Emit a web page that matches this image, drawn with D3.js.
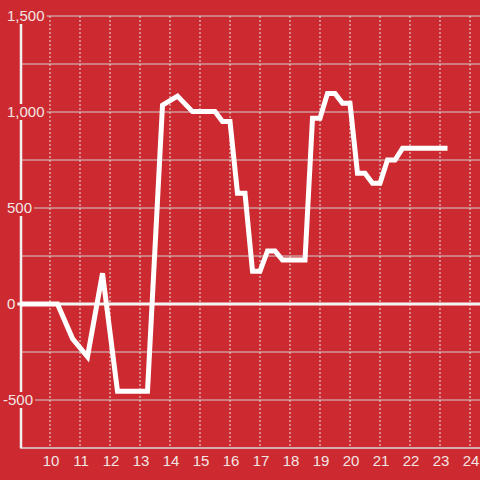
<!DOCTYPE html>
<html><head><meta charset="utf-8">
<script src="https://cdn.jsdelivr.net/npm/d3@7/dist/d3.min.js"></script>
<style>
html,body{margin:0;padding:0;background:#cc2a30;}
svg{display:block;font-family:"Liberation Sans",Arial,sans-serif;}
</style></head><body>
<svg id="c" width="480" height="480"></svg>
<script>
const hours  = [9, 10.25, 10.75, 11.25, 11.75, 12.25, 13.25, 13.75, 14.25, 14.75, 15.5, 15.75, 16, 16.25, 16.5, 16.75, 17, 17.25, 17.5, 17.75, 18.5, 18.75, 19, 19.25, 19.5, 19.75, 20, 20.25, 20.5, 20.75, 21, 21.25, 21.5, 21.75, 23.25];
const values = [0, 0, -180, -275, 160, -455, -455, 1036, 1083, 1002, 1002, 950, 950, 577, 577, 170, 170, 276, 276, 229, 229, 967, 967, 1097, 1097, 1045, 1045, 681, 681, 629, 629, 750, 750, 811, 811];
const xTicks = [10, 11, 12, 13, 14, 15, 16, 17, 18, 19, 20, 21, 22, 23, 24];
const yGrid = [-500, -250, 250, 500, 750, 1000, 1250, 1500];
const yLabels = [1500, 1000, 500, 0, -500];

const bg = "#cc2a30";
const svg = d3.select("#c");
const x = d3.scaleLinear().domain([9, 9 + 460/30]).range([20, 480]);
const y = d3.scaleLinear().domain([-750, 1500]).range([448, 16]);

// horizontal gridlines
svg.append("g").selectAll("line").data(yGrid).join("line")
  .attr("x1", 20).attr("x2", 480)
  .attr("y1", d => y(d)).attr("y2", d => y(d))
  .attr("stroke", "#cfcfcf").attr("stroke-width", 1);

// vertical dashed gridlines
svg.append("g").selectAll("line").data(xTicks).join("line")
  .attr("x1", d => x(d)).attr("x2", d => x(d))
  .attr("y1", y(1500)).attr("y2", y(-750) - 2)
  .attr("stroke", "#e6e6e6").attr("stroke-width", 1)
  .attr("stroke-dasharray", "2,2");

// bottom axis line
svg.append("line").attr("x1", 20).attr("x2", 480)
  .attr("y1", y(-750)).attr("y2", y(-750))
  .attr("stroke", "#d8d8d8").attr("stroke-width", 1.5);

// y axis line
svg.append("line").attr("x1", 21).attr("x2", 21)
  .attr("y1", y(1500)).attr("y2", y(-750))
  .attr("stroke", "#f0f0f0").attr("stroke-width", 2.5);

// zero line
svg.append("line").attr("x1", 16).attr("x2", 480)
  .attr("y1", y(0)).attr("y2", y(0))
  .attr("stroke", "#f4f4f4").attr("stroke-width", 3);

// y labels with background
const fmt = d3.format(",");
const lg = svg.append("g");
yLabels.forEach(v => {
  const t = lg.append("text")
    .attr("x", v < 0 ? 3 : 7).attr("y", y(v))
    .attr("dy", "0.36em")
    .attr("font-size", 15).attr("fill", "#f3e4e4")
    .text(fmt(v).replace("−", "-"));
  const b = t.node().getBBox();
  lg.insert("rect", "text")
    .attr("x", b.x - 2).attr("y", y(v) - 8)
    .attr("width", b.width + 4).attr("height", 16)
    .attr("fill", bg);
});

// x labels
svg.append("g").selectAll("text").data(xTicks).join("text")
  .attr("x", d => x(d) + 1).attr("y", 466)
  .attr("text-anchor", "middle")
  .attr("font-size", 15).attr("fill", "#f3e4e4")
  .text(d => d);

// data line
const pts = hours.map((h, i) => [h, values[i]]);
svg.append("path").datum(pts)
  .attr("fill", "none").attr("stroke", "#ffffff")
  .attr("stroke-width", 5).attr("stroke-linejoin", "miter")
  .attr("d", d3.line().x(d => x(d[0])).y(d => y(d[1])));
</script>
</body></html>
